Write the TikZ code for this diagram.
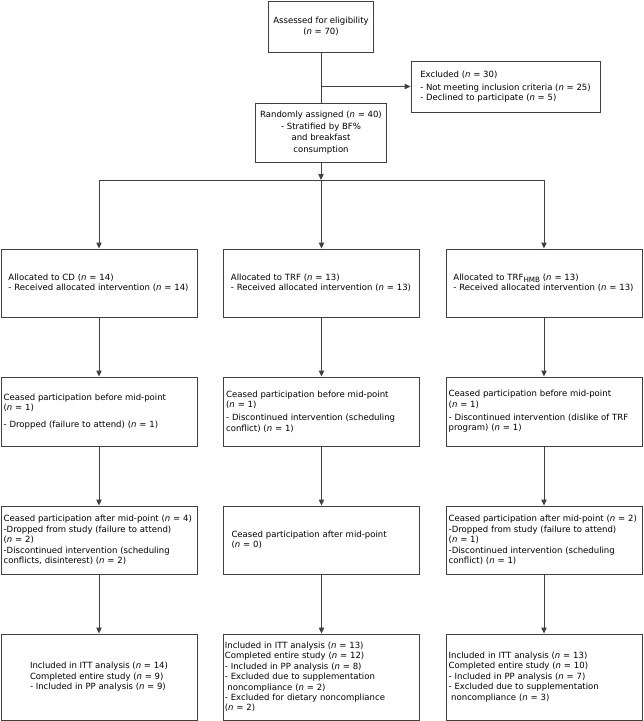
\documentclass[tikz,border=0pt]{standalone}
\usepackage{fontspec}
\setmainfont{DejaVu Sans}
\usetikzlibrary{arrows.meta}
\tikzset{
    box/.style = {rectangle, draw=black!75, line width=0.65pt, align=left, inner ysep=1pt, font=\fontsize{6.4}{7.8}\selectfont},
    topbox/.style = {box, align=center, font=\fontsize{6.4}{8.6}\selectfont},
    stagebox/.style = {box, minimum width=147pt, minimum height=#1},
    pad/.style 2 args = {inner xsep=#1, text width=#2},
    link/.style = {line width=0.7pt, draw=black!75},
    flow/.style = {-{Triangle[length=4.5pt,width=4pt]}, line width=0.7pt, draw=black!75}
}
\newcommand{\Nn}{\textit{n}}
\newcommand{\Sub}[1]{\raisebox{-1.6pt}{\fontsize{5.4}{6}\selectfont #1}}

\begin{document}
\begin{tikzpicture}[x=0.75pt, y=-0.75pt]
\useasboundingbox (0,0) rectangle (643,721);
\node[topbox, minimum width=78pt, minimum height=38.25pt] at (321, 26.5) (elig) {Assessed for eligibility\\(\Nn{} = 70)};
\node[box, minimum width=141.75pt, minimum height=38.25pt] at (505.5, 86.5) (excl) {Excluded (\Nn{} = 30)\\[2pt]- Not meeting inclusion criteria (\Nn{} = 25)\\- Declined to participate (\Nn{} = 5)};
\node[topbox, minimum width=95.25pt, minimum height=44.25pt] at (321, 132.5) (rand) {Randomly assigned (\Nn{} = 40)\\- Stratified by BF\%\\and breakfast\\consumption};
\coordinate (tap) at (321, 86.5);
\coordinate (fork) at (321, 180);
%
\node[stagebox=51pt, pad={5.6pt}{135.8pt}] at (99, 283) (a1) {Allocated to CD (\Nn{} = 14)\\- Received allocated intervention (\Nn{} = 14)};
\node[stagebox=51pt, pad={5.6pt}{135.8pt}] at (321.5, 283) (b1) {Allocated to TRF (\Nn{} = 13)\\- Received allocated intervention (\Nn{} = 13)};
\node[stagebox=51pt, pad={5.6pt}{135.8pt}] at (544, 283) (c1) {Allocated to TRF\Sub{HMB} (\Nn{} = 13)\\- Received allocated intervention (\Nn{} = 13)};
%
\node[stagebox=51.75pt, pad={2pt}{143pt}] at (99, 411.5) (a2) {Ceased participation before mid-point\\(\Nn{} = 1)\\[5pt]- Dropped (failure to attend) (\Nn{} = 1)\\[3pt]};
\node[stagebox=51.75pt, pad={2pt}{143pt}] at (321.5, 411.5) (b2) {Ceased participation before mid-point\\(\Nn{} = 1)\\[2pt]- Discontinued intervention (scheduling\\conflict) (\Nn{} = 1)\\[2pt]};
\node[stagebox=51.75pt, pad={2pt}{143pt}] at (544, 411.5) (c2) {Ceased participation before mid-point\\(\Nn{} = 1)\\[2pt]- Discontinued intervention (dislike of TRF\\program) (\Nn{} = 1)\\[2pt]};
%
\node[stagebox=51pt, pad={2pt}{143pt}] at (99, 540) (a3) {Ceased participation after mid-point (\Nn{} = 4)\\-Dropped from study (failure to attend)\\(\Nn{} = 2)\\-Discontinued intervention (scheduling\\conflicts, disinterest) (\Nn{} = 2)};
\node[stagebox=51pt, pad={6pt}{135pt}] at (321.5, 540) (b3) {Ceased participation after mid-point\\(\Nn{} = 0)};
\node[stagebox=51pt, pad={2pt}{143pt}] at (544, 540) (c3) {Ceased participation after mid-point (\Nn{} = 2)\\-Dropped from study (failure to attend)\\(\Nn{} = 1)\\-Discontinued intervention (scheduling\\conflict) (\Nn{} = 1)};
%
\node[stagebox=64.5pt] at (99, 677) (a4) {Included in ITT analysis (\Nn{} = 14)\\Completed entire study (\Nn{} = 9)\\- Included in PP analysis (\Nn{} = 9)};
\node[stagebox=64.5pt, pad={1pt}{145pt}] at (321.5, 677) (b4) {Included in ITT analysis (\Nn{} = 13)\\Completed entire study (\Nn{} = 12)\\- Included in PP analysis (\Nn{} = 8)\\- Excluded due to supplementation\\\hspace*{0.3em}noncompliance (\Nn{} = 2)\\- Excluded for dietary noncompliance\\(\Nn{} = 2)};
\node[stagebox=64.5pt, pad={2pt}{143pt}] at (544, 677) (c4) {Included in ITT analysis (\Nn{} = 13)\\Completed entire study (\Nn{} = 10)\\- Included in PP analysis (\Nn{} = 7)\\- Excluded due to supplementation\\\hspace*{0.3em}noncompliance (\Nn{} = 3)};
%
\draw[link] (elig) -- (rand);
\draw[flow] (tap) -- (excl);
\draw[flow] (rand) -- (fork);
\draw[link] (fork -| a1) -- (fork -| c1);
\draw[flow] (fork -| a1) -- (a1);
\draw[flow] (fork -| b1) -- (b1);
\draw[flow] (fork -| c1) -- (c1);
\draw[flow] (a1) -- (a2);
\draw[flow] (b1) -- (b2);
\draw[flow] (c1) -- (c2);
\draw[flow] (a2) -- (a3);
\draw[flow] (b2) -- (b3);
\draw[flow] (c2) -- (c3);
\draw[flow] (a3) -- (a4);
\draw[flow] (b3) -- (b4);
\draw[flow] (c3) -- (c4);
\end{tikzpicture}
\end{document}
